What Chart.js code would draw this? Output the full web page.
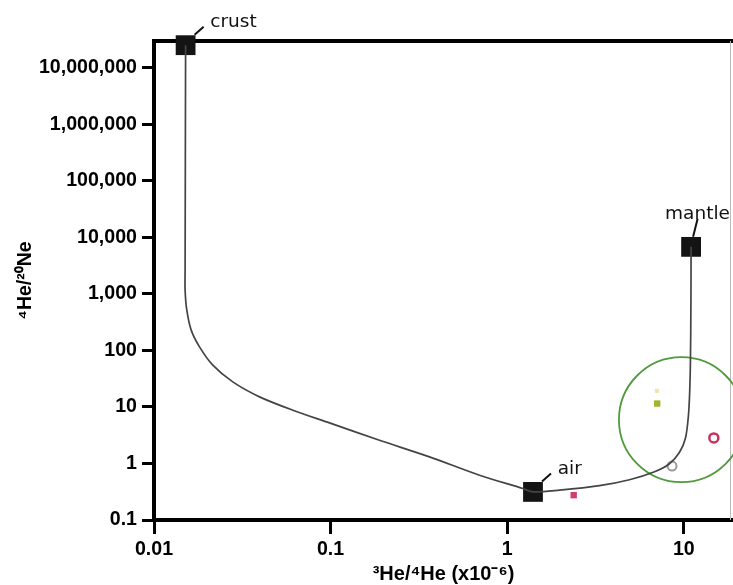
<!DOCTYPE html>
<html><head><meta charset="utf-8">
<script src="https://cdn.jsdelivr.net/npm/chart.js@4.4.1/dist/chart.umd.min.js"></script>
<style>html,body{margin:0;padding:0;background:#fff}canvas{display:block}</style>
</head><body>
<canvas id="c" width="733" height="585"></canvas>
<script>
// ---- tick values ----
const xTickValues = [0.01, 0.1, 1, 10];
const yTickValues = [0.1, 1, 10, 100, 1000, 10000, 100000, 1000000, 10000000];

// ---- end-members ----
const endMemberNames = ['crust', 'air', 'mantle'];
const endMemberX = [0.0151, 1.40, 11.0];
const endMemberY = [25300000, 0.314, 6820];

// ---- mixing curve (crust -> air -> mantle) ----
const curveX = [0.0151, 0.0150, 0.0150, 0.01534, 0.01624, 0.0181, 0.02153, 0.02794, 0.03958, 0.06109, 0.0986, 0.1891, 0.3631, 0.6969, 1.225, 1.40, 1.978, 3.332, 4.925, 6.83, 8.30, 9.46, 10.22, 10.63, 10.81, 10.91, 10.98, 11.0];
const curveY = [25300000, 2640, 1167, 516, 229, 116, 55, 27.8, 15.1, 8.78, 5.23, 2.58, 1.31, 0.621, 0.361, 0.314, 0.337, 0.405, 0.516, 0.716, 0.99, 1.585, 2.80, 7.16, 19.8, 67.3, 777, 6820];

// ---- samples ----
const pinkSquareX = [2.38];   const pinkSquareY = [0.275];
const greenSquareX = [7.07];  const greenSquareY = [11.5];
const paleSquareX = [7.05];   const paleSquareY = [19.3];
const grayCircleX = [8.58];   const grayCircleY = [0.90];
const pinkCircleX = [14.8];   const pinkCircleY = [2.84];

// ---- highlight circle centre ----
const highlightX = [9.70];    const highlightY = [5.96];

const pts = (xs, ys) => xs.map((v, i) => ({x: v, y: ys[i]}));

const frameAndLabels = {
  id: 'frameAndLabels',
  beforeDatasetsDraw(chart) {
    const {ctx, chartArea} = chart;
    ctx.save();
    ctx.strokeStyle = '#000';
    ctx.lineWidth = 4;
    ctx.beginPath();
    ctx.moveTo(chartArea.left - 2, chartArea.top);
    ctx.lineTo(chartArea.right, chartArea.top);
    ctx.stroke();
    ctx.strokeStyle = '#bbb';
    ctx.lineWidth = 1;
    ctx.beginPath();
    ctx.moveTo(chartArea.right - 2.5, chartArea.top);
    ctx.lineTo(chartArea.right - 2.5, chartArea.bottom);
    ctx.stroke();
    ctx.restore();
  },
  afterDatasetsDraw(chart) {
    const {ctx, scales: {x, y}} = chart;
    ctx.save();
    ctx.font = '18.5px "DejaVu Sans"';
    ctx.fillStyle = '#111';
    ctx.strokeStyle = '#111';
    ctx.lineWidth = 2;
    ctx.textBaseline = 'alphabetic';
    ctx.textAlign = 'left';
    endMemberNames.forEach((name, i) => {
      const px = x.getPixelForValue(endMemberX[i]);
      const py = y.getPixelForValue(endMemberY[i]);
      let a, b, tx, ty;
      if (name === 'mantle') {
        a = [2, -10]; b = [6.5, -28]; tx = px - 26; ty = py - 27.5;
      } else {
        a = [9, -10.5]; b = [18, -18.5]; tx = px + 24.7; ty = py - 17.7;
      }
      ctx.beginPath();
      ctx.moveTo(px + a[0], py + a[1]);
      ctx.lineTo(px + b[0], py + b[1]);
      ctx.stroke();
      ctx.fillText(name, tx, ty);
    });
    ctx.restore();
  }
};

const tickFont = {family: '"Liberation Sans", Arial, sans-serif', size: 19.6, weight: 'bold'};

new Chart(document.getElementById('c'), {
  type: 'scatter',
  data: {
    datasets: [
      {
        label: 'mixing curve', data: pts(curveX, curveY), showLine: true,
        borderColor: '#444', borderWidth: 1.7, pointRadius: 0, tension: 0.3,
        fill: false, order: 0, clip: false
      },
      {
        label: 'end-members', data: pts(endMemberX, endMemberY), pointStyle: 'rect',
        pointRadius: 14, backgroundColor: '#141414', borderColor: '#141414', borderWidth: 0,
        order: 1, clip: false
      },
      {
        label: 'pink square', data: pts(pinkSquareX, pinkSquareY), pointStyle: 'rect',
        pointRadius: 4.5, backgroundColor: '#d23c6e', borderWidth: 0, order: 2, clip: false
      },
      {
        label: 'green square', data: pts(greenSquareX, greenSquareY), pointStyle: 'rect',
        pointRadius: 4.5, backgroundColor: '#a4b52c', borderWidth: 0, order: 2, clip: false
      },
      {
        label: 'pale square', data: pts(paleSquareX, paleSquareY), pointStyle: 'rect',
        pointRadius: 3, backgroundColor: '#ece6b4', borderWidth: 0, order: 2, clip: false
      },
      {
        label: 'gray circle', data: pts(grayCircleX, grayCircleY), pointStyle: 'circle',
        pointRadius: 4.5, backgroundColor: '#fff', borderColor: '#9a9a9a', borderWidth: 2, order: 2, clip: false
      },
      {
        label: 'pink circle', data: pts(pinkCircleX, pinkCircleY), pointStyle: 'circle',
        pointRadius: 4.5, backgroundColor: '#fff', borderColor: '#c8325f', borderWidth: 2.5, order: 2, clip: false
      },
      {
        label: 'highlight', data: pts(highlightX, highlightY), pointStyle: 'circle',
        pointRadius: 62.5, backgroundColor: 'rgba(0,0,0,0)', borderColor: '#4f9a3a', borderWidth: 1.8,
        order: 3, clip: false
      }
    ]
  },
  options: {
    responsive: false,
    animation: false,
    devicePixelRatio: 1,
    layout: {autoPadding: false, padding: {top: 41, right: 0, bottom: 0, left: 0}},
    plugins: {legend: {display: false}, tooltip: {enabled: false}},
    scales: {
      x: {
        type: 'logarithmic', position: 'bottom', min: 0.01, max: 19.0,
        afterBuildTicks: s => { s.ticks = xTickValues.map(v => ({value: v, major: true})); },
        afterFit: s => { s.height = 65; },
        ticks: {
          autoSkip: false, maxRotation: 0, padding: 4, color: '#000', font: tickFont,
          callback: v => v.toLocaleString('en-US', {maximumFractionDigits: 3})
        },
        grid: {display: true, drawOnChartArea: false, drawTicks: true, tickLength: 14, tickWidth: 3, tickColor: '#000'},
        border: {display: true, color: '#000', width: 4},
        title: {
          display: true, text: '³He/⁴He (x10⁻⁶)', color: '#000',
          font: {family: '"Liberation Sans", Arial, sans-serif', size: 20, weight: 'bold', lineHeight: 1.1},
          padding: {top: 0, bottom: 0}
        }
      },
      y: {
        type: 'logarithmic', position: 'left', min: 0.1, max: 30000000,
        afterBuildTicks: s => { s.ticks = yTickValues.map(v => ({value: v, major: true})); },
        afterFit: s => { s.width = 154; },
        ticks: {
          autoSkip: false, padding: 5, color: '#000', font: tickFont,
          callback: v => v.toLocaleString('en-US', {maximumFractionDigits: 3})
        },
        grid: {display: true, drawOnChartArea: false, drawTicks: true, tickLength: 12, tickWidth: 3, tickColor: '#000'},
        border: {display: true, color: '#000', width: 4},
        title: {
          display: true, text: '⁴He/²⁰Ne', color: '#000',
          font: {family: '"Liberation Sans", Arial, sans-serif', size: 19.5, weight: 'bold', lineHeight: 1.2},
          padding: {top: 14, bottom: 0}
        }
      }
    }
  },
  plugins: [frameAndLabels]
});
</script>
</body></html>
